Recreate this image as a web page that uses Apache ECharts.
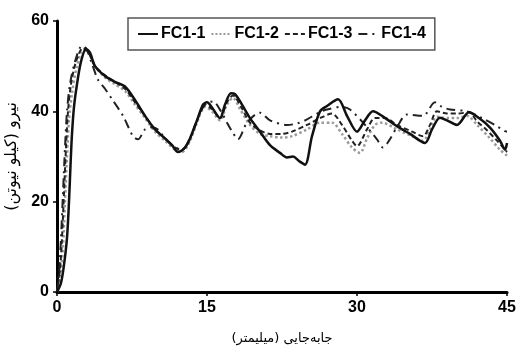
<!DOCTYPE html>
<html>
<head>
<meta charset="utf-8">
<script src="https://cdn.jsdelivr.net/npm/echarts@6/dist/echarts.min.js"></script>
<style>
  html, body { margin: 0; padding: 0; background: #fff; }
  #chart { width: 518px; height: 351px; }
</style>
</head>
<body>
<div id="chart"></div>
<script>
// displacement (mm) / force (kN) pairs
let fc1 = [[0,0],[0.4,2],[0.7,6],[1.0,12],[1.2,20],[1.35,28],[1.5,35],[1.7,41],[2.0,46],[2.4,51],[2.9,53.8],[3.3,53],[3.8,50],[4.8,47.8],[5.8,46.5],[6.8,45.5],[7.8,42.5],[8.8,39],[9.8,36],[10.8,34],[11.5,32.5],[12.1,31],[12.8,32],[13.3,34],[14,38],[14.6,41.5],[15,42],[15.6,40.5],[16.3,38.5],[16.8,41.5],[17.4,44],[17.8,43.8],[18.5,41.5],[19.3,38.5],[20.3,35.5],[21.3,32.5],[22.3,30.8],[23,29.8],[23.6,30],[24.2,29],[24.8,28.2],[25.5,34.5],[26.3,40],[27,41.2],[28.1,42.7],[29,39],[30,35.5],[30.8,38],[31.6,40],[32.5,39],[34,36.7],[35.3,35],[36.8,33],[37.5,36],[38.3,38.6],[39,38],[40,37],[41.2,39.8],[42.2,38.5],[43.3,36.4],[44.3,33.5],[44.8,31.5],[45,33]]
let fc2 = [[0,0],[0.3,3],[0.6,10],[0.8,20],[1.0,30],[1.2,38],[1.5,44],[2.0,50],[2.6,53.5],[3.2,53],[3.8,50],[4.8,47.5],[5.8,46],[6.8,44.5],[7.8,41.5],[8.8,38.5],[9.8,35.5],[10.8,33.5],[11.8,31.5],[12.5,31],[13.3,33.5],[14,37.5],[14.8,41],[15.5,40],[16.3,38],[17,41.5],[17.6,43],[18.3,40.5],[19.3,37],[20.3,35],[21.3,34.5],[22.5,34.2],[23.5,34.5],[25,36],[26.3,37.5],[27.5,37.5],[28.5,35],[29.5,32],[30.3,30.8],[31,34],[31.8,37],[32.5,37.5],[34,36],[35.5,34.5],[36.6,33.5],[37.3,36],[38,38.8],[39,38.5],[40,38.5],[41,39],[42,37],[43.3,34],[44.3,31.5],[45,30.2]]
let fc3 = [[0,0],[0.3,5],[0.5,12],[0.7,22],[0.9,32],[1.1,40],[1.4,46],[1.9,51],[2.6,54],[3.1,53.2],[3.8,50],[4.8,48],[5.8,46.5],[6.8,45],[7.8,42],[8.8,39],[9.8,36],[10.8,34],[11.8,32],[12.5,31.5],[13.3,34],[14,38],[14.8,41.5],[15.5,40.5],[16.3,38.5],[17,42],[17.6,43.5],[18.4,41],[19.3,37.5],[20.3,35.8],[21.3,35],[22.5,35],[23.5,35.5],[25,37],[26.3,38.5],[27.5,39.5],[28.5,37],[29.5,33.5],[30,32.3],[31,36],[31.8,38.5],[32.8,38.5],[34,37],[35.5,35.5],[36.6,34.5],[37.3,37],[38,40],[39,39.5],[40,39.5],[41.2,39.8],[42,37.8],[43,35.8],[44,33.5],[44.8,31.5],[45,31]]
let fc4 = [[0,0],[0.2,4],[0.4,12],[0.6,22],[0.8,32],[1.0,40],[1.3,46],[1.8,51],[2.5,54.5],[2.9,54],[3.5,50.5],[4.1,47],[4.8,45],[5.5,42.7],[6.6,39],[7.6,34.5],[8.1,33.8],[8.8,36],[9.5,36.5],[10.1,36],[10.8,34],[11.8,32],[12.5,31.5],[13.3,34],[14,38],[14.8,41.5],[15.6,42.2],[16.4,40],[17,37.5],[17.5,35.6],[18.1,33.8],[19,37.5],[20.3,39.7],[21.3,38],[23,37],[24,37.3],[25,38.2],[26,39.5],[27,40.4],[28.5,41],[29.3,40.4],[30.6,37.5],[32,33.8],[32.6,32],[33.2,33.5],[34,36.5],[35,39.3],[36.6,39],[37.8,42],[38.5,41],[39.3,40.4],[41,40],[42.5,38.5],[44,36.7],[44.8,35.6],[45,35.5]]

let names = ['FC1-1', 'FC1-2', 'FC1-3', 'FC1-4']
let xName = 'جابەجایی (میلیمتر)'
let yName = 'نیرو (کیلو نیوتن)'

let tickFont = 'Liberation Sans, Arial, sans-serif'
let chart = echarts.init(document.getElementById('chart'), null, { renderer: 'canvas' })

let axisCommon = {
    splitLine: { show: false },
    axisLine: { show: true, onZero: false, lineStyle: { color: '#000', width: 3 } },
    axisTick: { show: true, length: 4, lineStyle: { color: '#000', width: 1.5 } },
    axisLabel: { color: '#000', fontSize: 16, fontWeight: 'bold', fontFamily: tickFont },
    nameLocation: 'middle'
}

let option = {
    backgroundColor: '#fff',
    animation: false,
    grid: { left: 57, right: 11, top: 21, bottom: 59, outerBoundsMode: 'none' },
    legend: {
        left: 128,
        top: 18,
        padding: [8, 9],
        borderColor: '#555',
        borderWidth: 1.5,
        itemWidth: 20,
        itemHeight: 14,
        itemGap: 5,
        itemStyle: { opacity: 0 },
        textStyle: { color: '#000', fontSize: 16, fontWeight: 'bold', fontFamily: tickFont, padding: [0, 0, 0, -2] },
        data: names
    },
    xAxis: Object.assign({}, axisCommon, {
        type: 'value', min: 0, max: 45, interval: 15,
        name: xName, nameGap: 40,
        nameTextStyle: { color: '#000', fontSize: 13, fontFamily: 'DejaVu Sans' }
    }),
    yAxis: Object.assign({}, axisCommon, {
        type: 'value', min: 0, max: 60, interval: 20,
        name: yName, nameGap: 31,
        nameTextStyle: { color: '#000', fontSize: 16, fontFamily: 'DejaVu Sans' }
    }),
    series: [
        {
            name: names[0], type: 'line', data: fc1, symbol: 'none', smooth: 0.3, z: 5,
            lineStyle: { color: '#111', width: 2.5, type: 'solid' }, itemStyle: { color: '#111' }
        },
        {
            name: names[1], type: 'line', data: fc2, symbol: 'none', smooth: 0.3, z: 2,
            lineStyle: { color: '#9a9a9a', width: 2.5, type: 'dotted' }, itemStyle: { color: '#9a9a9a' }
        },
        {
            name: names[2], type: 'line', data: fc3, symbol: 'none', smooth: 0.3, z: 3,
            lineStyle: { color: '#222', width: 2, type: [5, 3] }, itemStyle: { color: '#222' }
        },
        {
            name: names[3], type: 'line', data: fc4, symbol: 'none', smooth: 0.3, z: 4,
            lineStyle: { color: '#222', width: 2, type: [9, 5, 2, 5] }, itemStyle: { color: '#222' }
        }
    ]
}

chart.setOption(option)
window.addEventListener('resize', function () {
    chart.resize()
})
</script>
</body>
</html>
